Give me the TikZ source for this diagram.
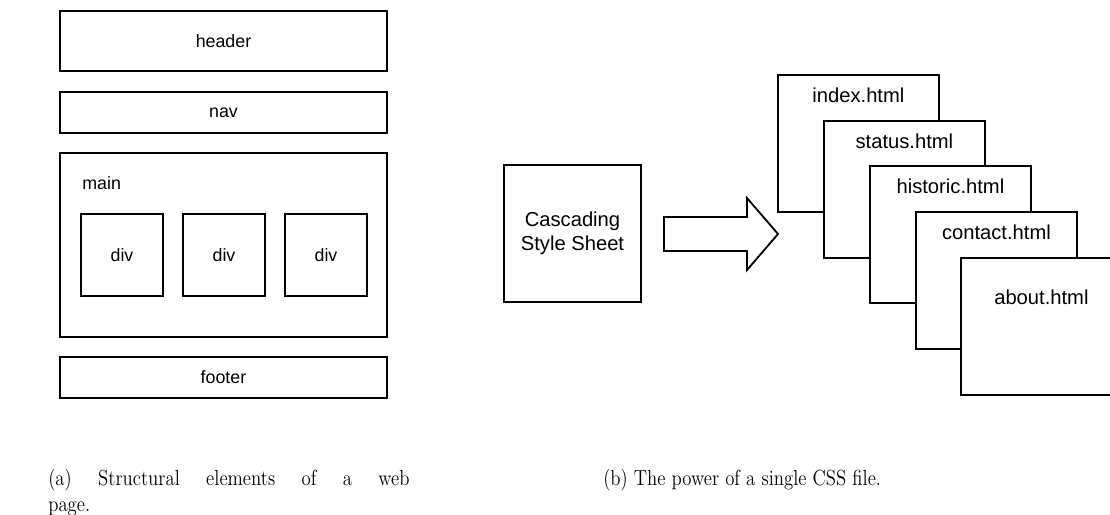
\documentclass[tikz,border=0pt]{standalone}
\usepackage{fontspec}
\newfontfamily\boxfont{Liberation Sans}
\usepackage{tikz}
\usetikzlibrary{positioning}

\begin{document}
\begin{tikzpicture}[x=0.55pt, y=-0.55pt,
	every node/.style={inner sep=0pt},
	box/.style={draw=black, line width=1pt, fill=white},
	lefttext/.style={font=\boxfont\fontsize{9.8}{11.8}\selectfont},
	righttext/.style={font=\boxfont\fontsize{11.1}{13.3}\selectfont},
	captext/.style={font=\fontsize{12}{14.5}\selectfont, xscale=0.86},
	strip/.style={box, lefttext, minimum width=179.85pt, minimum height=22.55pt},
	divbox/.style={box, lefttext, minimum width=45.1pt, minimum height=45.1pt},
	page/.style={box, anchor=north west, minimum width=88.55pt, minimum height=75.35pt}]
	\useasboundingbox (0,0) rectangle (1110,514);

	\node[box, lefttext, minimum width=179.85pt, minimum height=33pt]    (header) at (223.5, 41)    {header};
	\node[strip]                                                         (nav)    at (223.5, 112.5) {nav};
	\node[box, minimum width=179.85pt, minimum height=101.2pt]           (main)   at (223.5, 245)   {};
	\node[lefttext, anchor=west]                                         (mainname) at (82, 183)    {main};
	\node[divbox]                                                        (div1)   at (122, 255)     {div};
	\node[divbox]                                                        (div2)   at (224, 255)     {div};
	\node[divbox]                                                        (div3)   at (326, 255)     {div};
	\node[strip]                                                         (footer) at (223.5, 377.5) {footer};

	\node[box, righttext, align=center, minimum width=75.35pt, minimum height=75.35pt] (css) at (572.5, 233.5) {Cascading\\Style Sheet};
	\draw[line width=1pt, line join=miter] (664,217) -- (747,217) -- (747,198) -- (778,234) -- (747,270) -- (747,251) -- (664,251) -- cycle;

	\node[page] (index)    at (777, 74)  {};
	\node[righttext, below=7.4pt of index.north]     (indexname)    {index.html};
	\node[page] (status)   at (823, 120) {};
	\node[righttext, below=7.4pt of status.north]    (statusname)   {status.html};
	\node[page] (historic) at (869, 165) {};
	\node[righttext, below=7.4pt of historic.north]  (historicname) {historic.html};
	\node[page] (contact)  at (915, 211) {};
	\node[righttext, below=7.4pt of contact.north]   (contactname)  {contact.html};
	\node[page] (about)    at (960, 257) {};
	\node[righttext, below=17.6pt of about.north]    (aboutname)    {about.html};

	\node[captext, anchor=north west, text width=231pt, align=justify] (capa) at (48, 468.5) {(a) Structural elements of a web\linebreak page.};
	\node[captext, anchor=base west] (capb) at (603, 485) {(b) The power of a single CSS file.};
\end{tikzpicture}
\end{document}
